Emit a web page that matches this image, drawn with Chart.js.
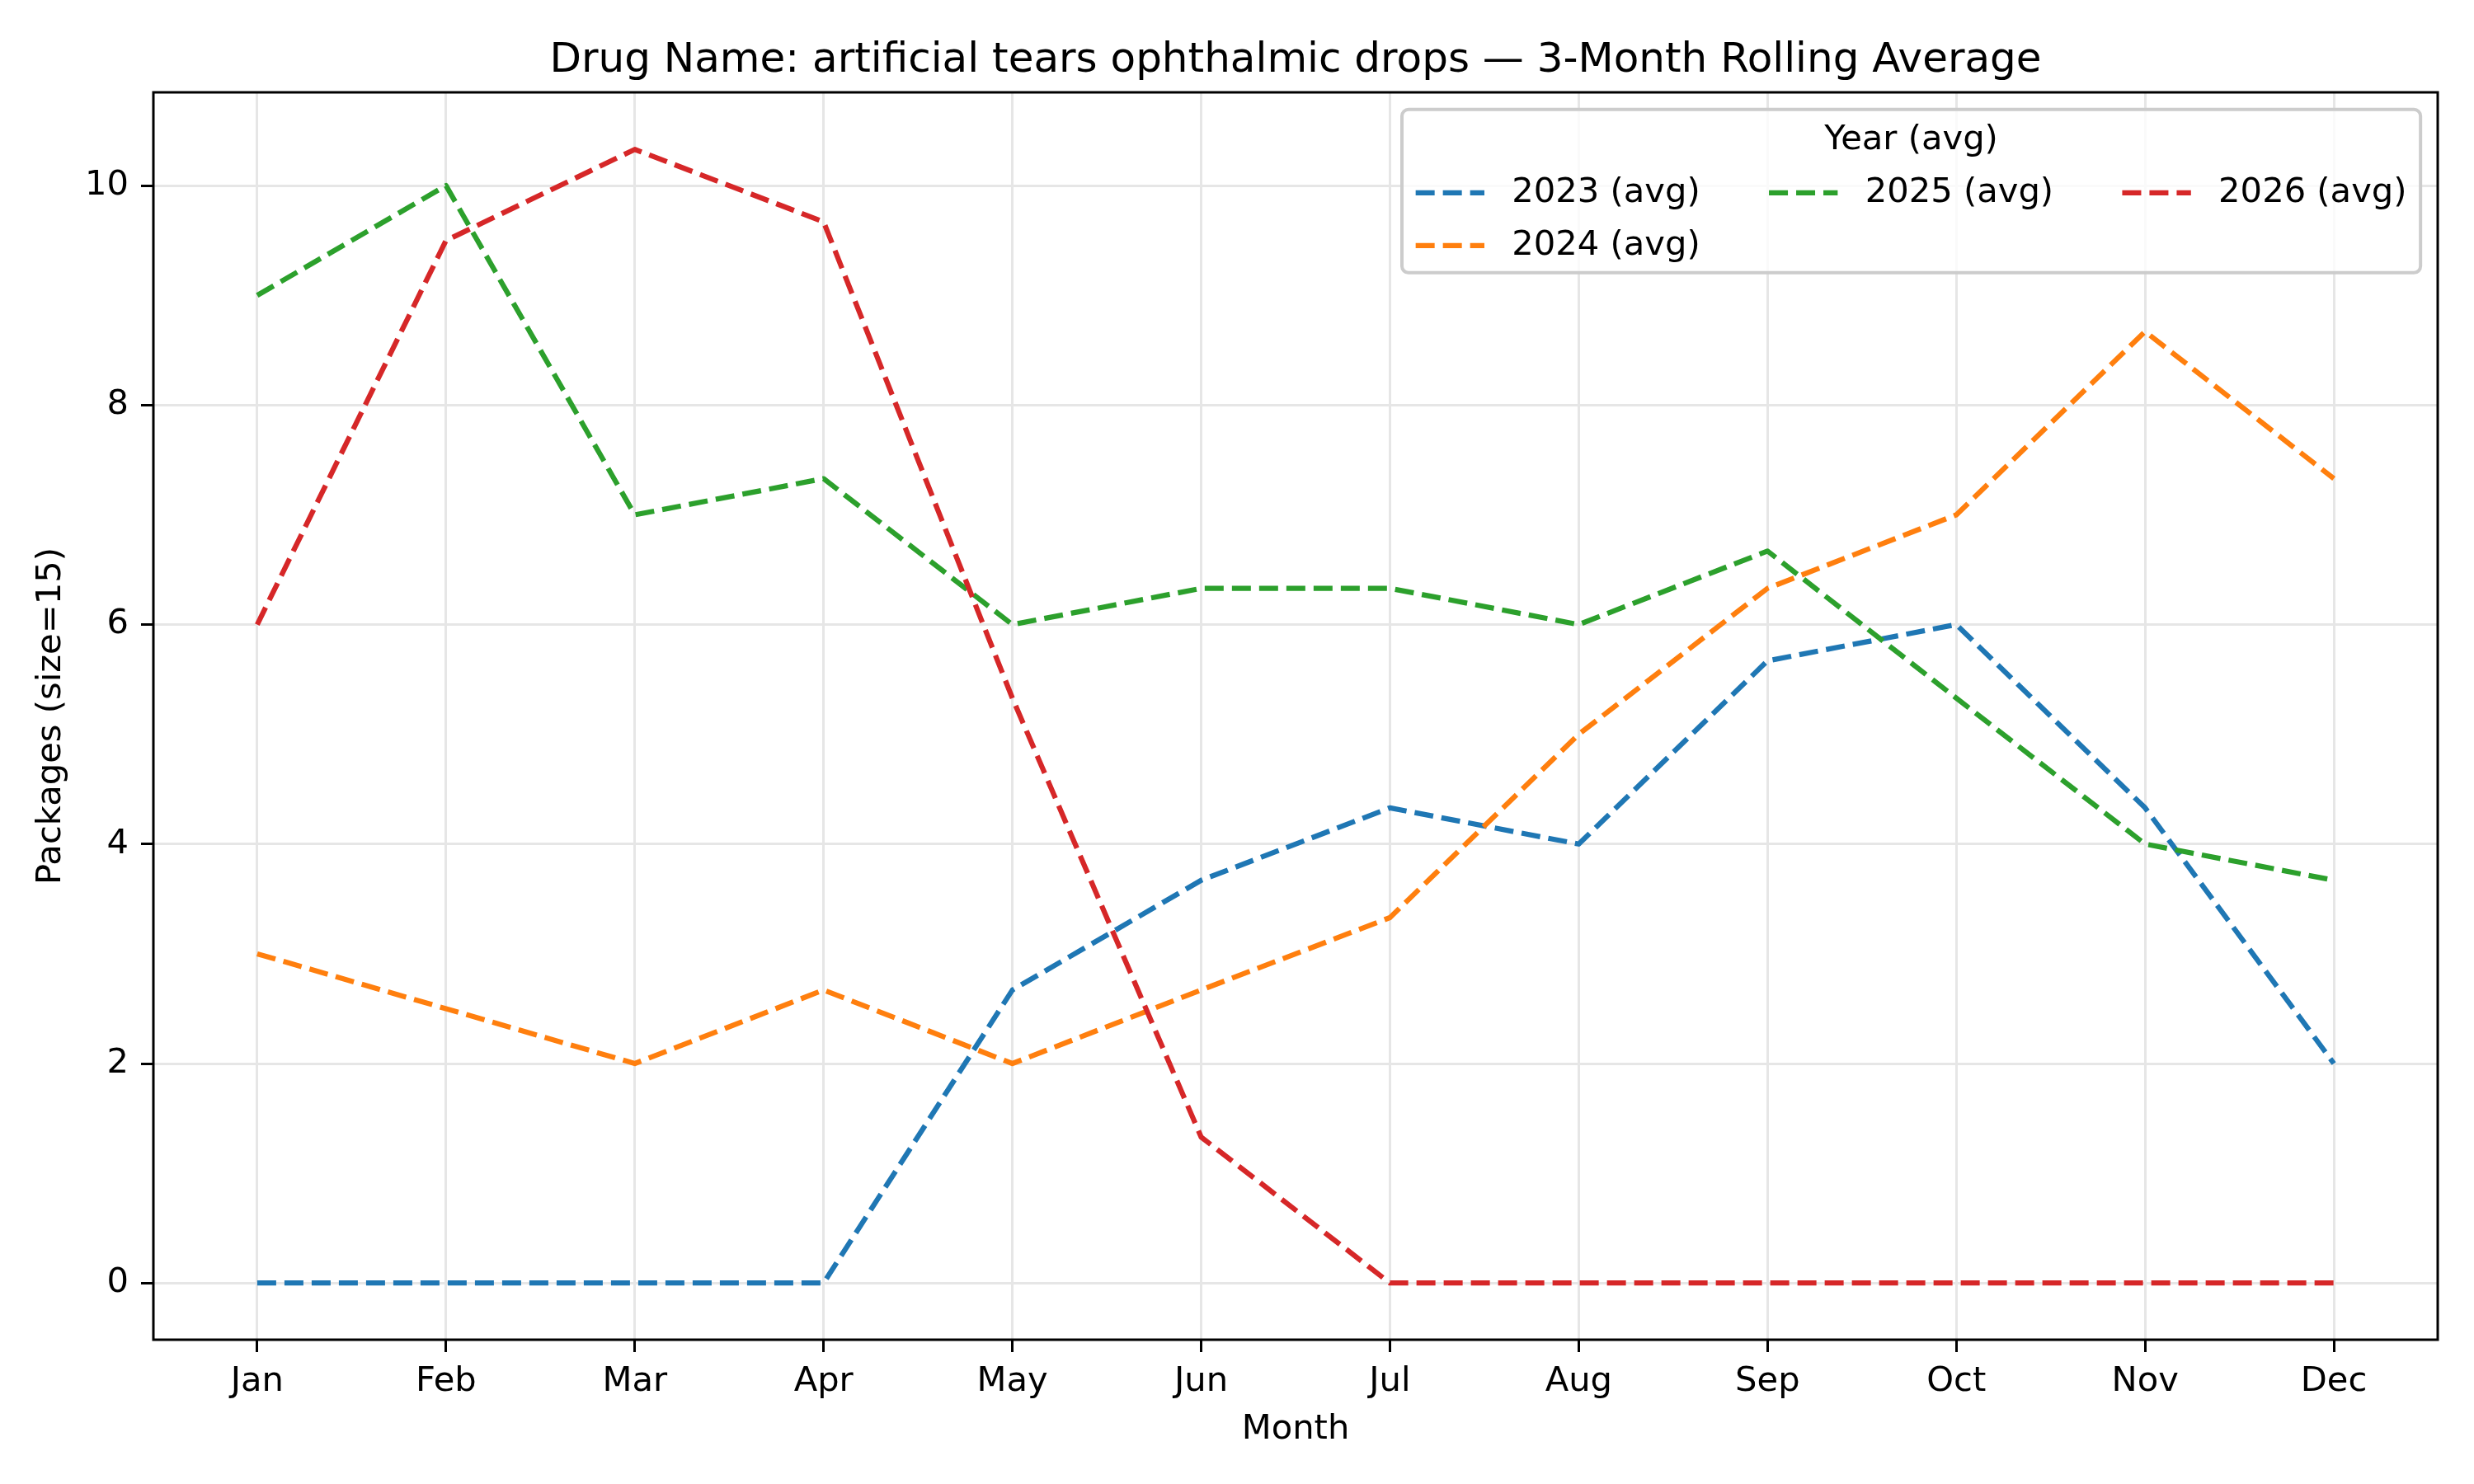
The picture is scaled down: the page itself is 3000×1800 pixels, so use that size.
<!DOCTYPE html>
<html>
<head>
<meta charset="utf-8">
<script src="https://cdn.jsdelivr.net/npm/chart.js@4.4.0/dist/chart.umd.min.js"></script>
<style>
  html, body { margin: 0; padding: 0; background: #fff; }
  canvas { display: block; }
</style>
</head>
<body>
<canvas id="chart" width="3000" height="1800"></canvas>
<script>
const months = ["Jan", "Feb", "Mar", "Apr", "May", "Jun", "Jul", "Aug", "Sep", "Oct", "Nov", "Dec"];
const seriesLabels = ["2023 (avg)", "2024 (avg)", "2025 (avg)", "2026 (avg)"];
const avg2023 = [0, 0, 0, 0, 2.67, 3.67, 4.33, 4, 5.67, 6, 4.33, 2];
const avg2024 = [3, 2.5, 2, 2.67, 2, 2.67, 3.33, 5, 6.33, 7, 8.67, 7.33];
const avg2025 = [9, 10, 7, 7.33, 6, 6.33, 6.33, 6, 6.67, 5.33, 4, 3.67];
const avg2026 = [6, 9.5, 10.33, 9.67, 5.33, 1.33, 0, 0, 0, 0, 0, 0];
const yTicks = [0, 2, 4, 6, 8, 10];

const colors = ["#1f77b4", "#ff7f0e", "#2ca02c", "#d62728"];
const FS = 41.67;
const DASH = [23, 10];

Chart.defaults.font.family = "'DejaVu Sans'";
Chart.defaults.font.size = FS;
Chart.defaults.color = "#000";

const allSeries = [avg2023, avg2024, avg2025, avg2026];

// title, axes box and legend drawn by hand to mimic matplotlib
const decorations = {
  id: "decorations",
  afterDatasetsDraw(chart) {
    const { ctx, chartArea: a } = chart;
    ctx.save();
    ctx.strokeStyle = "#000";
    ctx.lineWidth = 3;
    ctx.strokeRect(a.left, a.top, a.right - a.left, a.bottom - a.top);
    ctx.restore();
  },
  afterDraw(chart) {
    const { ctx, chartArea: a } = chart;
    ctx.save();
    // title
    ctx.font = "50px 'DejaVu Sans'";
    ctx.fillStyle = "#000";
    ctx.textAlign = "center";
    ctx.textBaseline = "alphabetic";
    ctx.fillText("Drug Name: artificial tears ophthalmic drops \u2014 3-Month Rolling Average", (a.left + a.right) / 2, 87);

    // legend
    ctx.font = FS + "px 'DejaVu Sans'";
    const pad = 0.4 * FS, handleLen = 2 * FS, textPad = 0.8 * FS, colSpace = 2 * FS;
    const cols = [[0, 1], [2], [3]];
    const colWidths = cols.map(c => Math.max(...c.map(i => ctx.measureText(chart.data.datasets[i].label).width)));
    let width = 2 * pad + colSpace * (cols.length - 1);
    colWidths.forEach(w => { width += handleLen + textPad + w; });
    const right = a.right - 0.5 * FS;
    const top = a.top + 0.5 * FS;
    const left = right - width;
    const height = 198;
    ctx.beginPath();
    ctx.roundRect(left, top, width, height, 8);
    ctx.fillStyle = "rgba(255,255,255,0.8)";
    ctx.fill();
    ctx.strokeStyle = "#cccccc";
    ctx.lineWidth = 4;
    ctx.stroke();

    ctx.fillStyle = "#000";
    ctx.textAlign = "center";
    ctx.textBaseline = "middle";
    ctx.fillText("Year (avg)", left + width / 2, top + 37);

    let x = left + pad;
    cols.forEach((c, ci) => {
      c.forEach((idx, ri) => {
        const ds = chart.data.datasets[idx];
        const y = top + 101 + ri * 64;
        ctx.beginPath();
        ctx.setLineDash(DASH);
        ctx.lineWidth = 6.25;
        ctx.lineCap = "butt";
        ctx.strokeStyle = ds.borderColor;
        ctx.moveTo(x, y);
        ctx.lineTo(x + handleLen, y);
        ctx.stroke();
        ctx.setLineDash([]);
        ctx.fillStyle = "#000";
        ctx.textAlign = "left";
        ctx.fillText(ds.label, x + handleLen + textPad, y);
      });
      x += handleLen + textPad + colWidths[ci] + colSpace;
    });
    ctx.restore();
  }
};

new Chart(document.getElementById("chart"), {
  type: "line",
  data: {
    datasets: allSeries.map((vals, i) => ({
      label: seriesLabels[i],
      data: vals.map((v, j) => ({ x: j, y: v })),
      borderColor: colors[i],
      backgroundColor: colors[i],
      borderWidth: 6.25,
      borderDash: DASH,
      borderCapStyle: "butt",
      borderJoinStyle: "round",
      pointRadius: 0,
      tension: 0,
      fill: false,
      order: allSeries.length - i,
    })),
  },
  options: {
    responsive: false,
    animation: false,
    devicePixelRatio: 1,
    layout: { padding: { top: 112, right: 44, bottom: 0, left: 0 } },
    plugins: {
      legend: { display: false },
      title: { display: false },
      tooltip: { enabled: false },
    },
    scales: {
      x: {
        type: "linear",
        min: -0.55,
        max: 11.55,
        afterBuildTicks: (s) => { s.ticks = months.map((m, i) => ({ value: i })); },
        afterFit: (s) => { s.height = 175; },
        ticks: {
          callback: (v) => months[v],
          padding: 11,
          maxRotation: 0,
          autoSkip: false,
        },
        grid: { color: "#e6e6e6", lineWidth: 3, tickColor: "#000", tickWidth: 3, tickLength: 15 },
        border: { display: false },
        title: { display: true, text: "Month", padding: { top: 0, bottom: 41 } },
      },
      y: {
        min: -0.5167,
        max: 10.85,
        afterBuildTicks: (s) => { s.ticks = yTicks.map(v => ({ value: v })); },
        afterFit: (s) => { s.width = 186; },
        ticks: { padding: 15 },
        grid: { color: "#e6e6e6", lineWidth: 3, tickColor: "#000", tickWidth: 3, tickLength: 15 },
        border: { display: false },
        title: { display: true, text: "Packages (size=15)", padding: { top: 37, bottom: 0 } },
      },
    },
  },
  plugins: [decorations],
});
</script>
</body>
</html>
